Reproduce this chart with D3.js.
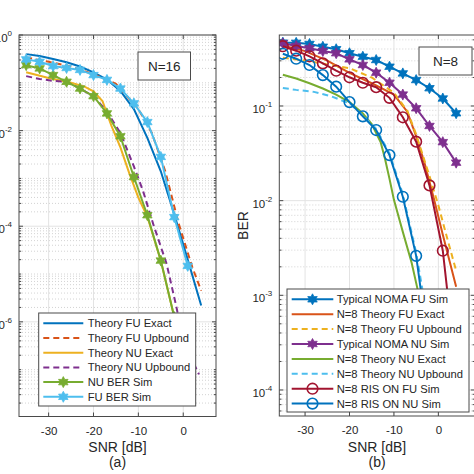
<!DOCTYPE html>
<html><head><meta charset="utf-8">
<script src="https://cdn.jsdelivr.net/npm/d3@7"></script>
<style>
html,body{margin:0;padding:0;background:#fff;}
svg{display:block;font-family:"Liberation Sans",Arial,Helvetica,sans-serif;}
</style></head><body>
<svg id="c" width="474" height="474"></svg>
<script>
// ---------------- data: panel (a) ----------------
const snrSimA   = [-35,-32,-29,-26,-23,-20,-17,-14,-11,-8,-5,-2,1];
const fuSimA    = [0.309,0.275,0.224,0.204,0.186,0.145,0.115,0.0759,0.0372,0.0151,2.82e-3,1.55e-4,1.48e-5];
const snrNuSimA = [-35,-32,-29,-26,-23,-20,-17,-14,-11,-8,-5,-2];
const nuSimA    = [0.234,0.200,0.145,0.105,0.0759,0.0525,0.0229,7.59e-3,1.07e-3,1.70e-4,1.91e-5,1.26e-6];
const snrFuExA  = [-35,-32,-29,-26,-23,-20,-17,-14,-11,-8,-5,-2,1,4];
const fuExA     = [0.398,0.363,0.316,0.269,0.219,0.166,0.117,0.0676,0.0282,7.08e-3,1.41e-3,1.78e-4,2.0e-5,2.19e-6];
const snrFuUpA  = [-35,-30,-25,-20,-15,-10,-7,-4,-1,2,4];
const fuUpA     = [0.339,0.275,0.219,0.151,0.0955,0.0282,8.91e-3,1.41e-3,1.12e-4,1.41e-5,4.47e-6];
const snrNuExA  = [-35,-30,-25,-22,-20,-18,-16,-14,-12,-10,-8,-5,-2];
const nuExA     = [0.166,0.126,0.100,0.0832,0.0661,0.0417,0.0126,4.47e-3,1.26e-3,3.98e-4,1.58e-4,1.91e-5,1.26e-6];
const snrNuUpA  = [-35,-32,-29,-26,-23,-20,-17,-14,-11,-9,-6.7,-3.7,-1.5,0,3.5];
const nuUpA     = [0.138,0.120,0.110,0.105,0.0759,0.0525,0.0251,8.91e-3,1.78e-3,5.62e-4,1.12e-4,1.62e-5,2.0e-6,3.98e-7,7.94e-8];
const labelsA   = ["Theory FU Exact","Theory FU Upbound","Theory NU Exact","Theory NU Upbound","NU BER Sim","FU BER Sim"];

// ---------------- data: panel (b) ----------------
const snrB      = [-35,-32,-29,-26,-23,-20,-17,-14,-11,-8,-5,-2,1,4];
const typFuB    = [0.467,0.465,0.452,0.423,0.398,0.361,0.332,0.306,0.260,0.221,0.188,0.154,0.120,0.0838];
const typNuB    = [0.459,0.431,0.407,0.381,0.361,0.311,0.271,0.225,0.176,0.132,0.0946,0.0615,0.0415,0.0252];
const risFuB    = [0.428,0.384,0.335,0.282,0.236,0.201,0.176,0.158,0.122,0.0760,0.0420,0.0145,2.96e-3,1.6e-4];
const snrRisNuB = [-35,-32,-29,-26,-23,-20,-17,-14,-11,-8,-5,-2];
const risNuB    = [0.356,0.316,0.271,0.212,0.160,0.110,0.0778,0.0557,0.0303,0.0110,2.61e-3,2.40e-4];
const snrFuExB  = [-35,-30,-25,-20,-15,-10,-7,-5,-3,-1,1,4];
const fuExB     = [0.437,0.380,0.302,0.224,0.174,0.132,0.0871,0.0479,0.0240,0.0105,4.37e-3,1.23e-3];
const snrFuUpB  = [-35,-30,-25,-20,-15,-10,-7,-5,-2,0,2,4];
const fuUpB     = [0.324,0.302,0.275,0.251,0.200,0.138,0.0891,0.0501,0.0182,8.91e-3,3.98e-3,1.82e-3];
const snrNuExB  = [-35,-32,-29,-26,-23,-20,-17,-15,-13,-12,-11,-10,-8,-6,-4.7,-2,0];
const nuExB     = [0.214,0.195,0.174,0.153,0.132,0.110,0.0832,0.0646,0.0417,0.0275,0.0170,0.0102,4.68e-3,2.19e-3,1.17e-3,2.51e-4,7.08e-5];
const snrNuUpB  = [-35,-32,-28,-24,-21,-20,-17,-14,-11,-8,-5,-3];
const nuUpB     = [0.155,0.148,0.141,0.126,0.111,0.107,0.0794,0.0575,0.0316,0.0117,2.82e-3,7.94e-4];
const labelsB   = ["Typical NOMA FU Sim","N=8 Theory FU Exact","N=8 Theory FU Upbound","Typical NOMA NU Sim",
                   "N=8 Theory NU Exact","N=8 Theory NU Upbound","N=8 RIS ON FU Sim","N=8 RIS ON NU Sim"];

const xTicks = [-30,-20,-10,0];

// ---------------- drawing ----------------
const C = {blue:"#0072BD", orange:"#D95319", yellow:"#EDB120", purple:"#7E2F8E",
           green:"#77AC30", cyan:"#4DBEEE", red:"#A2142F"};
const svg = d3.select("#c");
const defs = svg.append("defs");

function hexPath(R){
  const pts=[];
  for(let i=0;i<12;i++){
    const a=-Math.PI/2+i*Math.PI/6, r=(i%2===0)?R:R*0.55;
    pts.push([r*Math.cos(a), r*Math.sin(a)]);
  }
  return "M"+pts.map(p=>p[0].toFixed(2)+","+p[1].toFixed(2)).join("L")+"Z";
}

function drawMarker(g, kind, color, cx, cy){
  if(kind==="hex"){
    g.append("path").attr("d",hexPath(5.5)).attr("transform",`translate(${cx},${cy})`)
      .attr("fill",color).attr("stroke",color).attr("stroke-width",0.8);
  } else if(kind==="circle"){
    g.append("circle").attr("cx",cx).attr("cy",cy).attr("r",5.3)
      .attr("fill","none").attr("stroke",color).attr("stroke-width",1.6);
  }
}

function panel(p){
  const x = d3.scaleLinear().domain(p.xDomain).range([p.left,p.right]);
  const y = d3.scaleLog().domain(p.yDomain).range([p.bottom,p.top]);
  const g = svg.append("g");
  defs.append("clipPath").attr("id","clip"+p.key).append("rect")
    .attr("x",p.left).attr("y",p.top).attr("width",p.right-p.left).attr("height",p.bottom-p.top);
  g.append("rect").attr("x",p.left).attr("y",p.top).attr("width",p.right-p.left)
    .attr("height",p.bottom-p.top).attr("fill","#fff");

  // grid
  const gg = g.append("g");
  const [lo,hi]=p.yDomain;
  const e0=Math.floor(Math.log10(lo)), e1=Math.ceil(Math.log10(hi));
  const minorVals=[], majorVals=[];
  for(let e=e0;e<=e1;e++) for(let m=1;m<=9;m++){
    const v=m*Math.pow(10,e);
    if(v<lo*0.999||v>hi*1.001) continue;
    if(m===1 && p.yTickExps.includes(e)) majorVals.push(v); else minorVals.push(v);
  }
  minorVals.forEach(v=>{
    gg.append("line").attr("x1",p.left).attr("x2",p.right).attr("y1",y(v)).attr("y2",y(v))
      .attr("stroke","#c8c8c8").attr("stroke-width",0.8).attr("stroke-dasharray","1,2");
  });
  majorVals.forEach(v=>{
    gg.append("line").attr("x1",p.left).attr("x2",p.right).attr("y1",y(v)).attr("y2",y(v))
      .attr("stroke","#e3e3e3").attr("stroke-width",1);
  });
  xTicks.forEach(t=>{
    gg.append("line").attr("x1",x(t)).attr("x2",x(t)).attr("y1",p.top).attr("y2",p.bottom)
      .attr("stroke","#e3e3e3").attr("stroke-width",1);
  });

  // series
  const sg = g.append("g").attr("clip-path",`url(#clip${p.key})`);
  const line = d3.line().x(d=>x(d[0])).y(d=>y(d[1]));
  p.series.forEach(s=>{
    const data = s.x.map((v,i)=>[v,s.y[i]]);
    sg.append("path").attr("d",line(data)).attr("fill","none").attr("stroke",s.color)
      .attr("stroke-width",2).attr("stroke-dasharray",s.dash?"6,4":null);
    if(s.marker) data.forEach(d=>drawMarker(sg,s.marker,s.color,x(d[0]),y(d[1])));
  });

  // box
  const ax = "#4a4a4a";
  g.append("rect").attr("x",p.left).attr("y",p.top).attr("width",p.right-p.left)
    .attr("height",p.bottom-p.top).attr("fill","none").attr("stroke",ax).attr("stroke-width",1);

  // ticks
  const tk = g.append("g").attr("stroke",ax).attr("stroke-width",1);
  xTicks.forEach(t=>{
    tk.append("line").attr("x1",x(t)).attr("x2",x(t)).attr("y1",p.bottom).attr("y2",p.bottom-4);
    tk.append("line").attr("x1",x(t)).attr("x2",x(t)).attr("y1",p.top).attr("y2",p.top+4);
  });
  majorVals.forEach(v=>{
    tk.append("line").attr("x1",p.left).attr("x2",p.left+4).attr("y1",y(v)).attr("y2",y(v));
    tk.append("line").attr("x1",p.right).attr("x2",p.right-4).attr("y1",y(v)).attr("y2",y(v));
  });
  minorVals.forEach(v=>{
    tk.append("line").attr("x1",p.left).attr("x2",p.left+2.2).attr("y1",y(v)).attr("y2",y(v));
    tk.append("line").attr("x1",p.right).attr("x2",p.right-2.2).attr("y1",y(v)).attr("y2",y(v));
  });

  // x tick labels
  const xa = d3.axisBottom(x).tickValues(xTicks).tickSize(0).tickPadding(10).tickFormat(d=>String(d));
  const xg = g.append("g").attr("transform",`translate(0,${p.bottom})`).call(xa);
  xg.select(".domain").remove();
  xg.selectAll("text").attr("font-size",11.5).attr("fill","#262626")
    .attr("font-family","Liberation Sans, Arial, sans-serif");

  // y tick labels
  p.yTickExps.forEach(e=>{
    const v=Math.pow(10,e);
    const t=g.append("text").attr("x",p.left-7).attr("y",y(v)+7).attr("text-anchor","end")
      .attr("font-size",11.5).attr("fill","#262626");
    t.append("tspan").text("10");
    t.append("tspan").attr("dy",-6).attr("font-size",8).text(String(e));
  });

  // axis labels
  const cx=(p.left+p.right)/2;
  g.append("text").attr("x",cx).attr("y",452).attr("text-anchor","middle").attr("font-size",14)
    .attr("fill","#262626").text("SNR [dB]");
  g.append("text").attr("x",cx).attr("y",467).attr("text-anchor","middle").attr("font-size",14)
    .attr("fill","#262626").text(p.sub);
  if(p.ylabel){
    g.append("text").attr("transform",`translate(${p.ylabelX},${(p.top+p.bottom)/2}) rotate(-90)`)
      .attr("text-anchor","middle").attr("dy","0.35em").attr("font-size",14).attr("fill","#262626").text(p.ylabel);
  }

  // annotation box
  const a=p.annot;
  g.append("rect").attr("x",a.x).attr("y",a.y).attr("width",a.w).attr("height",a.h)
    .attr("fill","#fff").attr("stroke",ax).attr("stroke-width",1);
  g.append("text").attr("x",a.x+a.w/2).attr("y",a.y+a.h/2).attr("dy","0.36em").attr("text-anchor","middle")
    .attr("font-size",13.5).attr("fill","#262626").text(a.text);

  // legend
  const L=p.legend;
  const lg=g.append("g");
  lg.append("rect").attr("x",L.x).attr("y",L.y).attr("width",L.w).attr("height",L.h)
    .attr("fill","#fff").attr("stroke",ax).attr("stroke-width",1);
  p.series.forEach((s,i)=>{
    const yy=L.row0+i*L.dy;
    lg.append("line").attr("x1",L.lx0).attr("x2",L.lx1).attr("y1",yy).attr("y2",yy)
      .attr("stroke",s.color).attr("stroke-width",2).attr("stroke-dasharray",s.dash?"6,4":null);
    if(s.marker) drawMarker(lg,s.marker,s.color,(L.lx0+L.lx1)/2,yy);
    lg.append("text").attr("x",L.tx).attr("y",yy).attr("dy","0.36em").attr("font-size",11.2)
      .attr("fill","#262626").text(s.label);
  });
}

panel({
  key:"a", left:19, right:216, top:35, bottom:416.5,
  xDomain:[-36.6,7.3], yDomain:[Math.pow(10,-7.98),1], yTickExps:[0,-2,-4,-6],
  sub:"(a)",
  annot:{x:138,y:52,w:52.5,h:28,text:"N=16"},
  legend:{x:38.7,y:313,w:157,h:93,row0:323.3,dy:14.7,lx0:43.3,lx1:83.3,tx:87.7},
  series:[
    {label:labelsA[0],x:snrFuExA,y:fuExA,color:C.blue},
    {label:labelsA[1],x:snrFuUpA,y:fuUpA,color:C.orange,dash:true},
    {label:labelsA[2],x:snrNuExA,y:nuExA,color:C.yellow},
    {label:labelsA[3],x:snrNuUpA,y:nuUpA,color:C.purple,dash:true},
    {label:labelsA[4],x:snrNuSimA,y:nuSimA,color:C.green,marker:"hex"},
    {label:labelsA[5],x:snrSimA,y:fuSimA,color:C.cyan,marker:"hex"}
  ]
});

panel({
  key:"b", left:279.3, right:474.8, top:35, bottom:416,
  xDomain:[-35.8,8.2], yDomain:[Math.pow(10,-4.275),Math.pow(10,-0.25)], yTickExps:[-1,-2,-3,-4],
  sub:"(b)", ylabel:"BER", ylabelX:243,
  annot:{x:419,y:47,w:53,h:28,text:"N=8"},
  legend:{x:287,y:289,w:182,h:123,row0:299.3,dy:14.9,lx0:291.7,lx1:333.3,tx:336.7},
  series:[
    {label:labelsB[0],x:snrB,y:typFuB,color:C.blue,marker:"hex"},
    {label:labelsB[1],x:snrFuExB,y:fuExB,color:C.orange},
    {label:labelsB[2],x:snrFuUpB,y:fuUpB,color:C.yellow,dash:true},
    {label:labelsB[3],x:snrB,y:typNuB,color:C.purple,marker:"hex"},
    {label:labelsB[4],x:snrNuExB,y:nuExB,color:C.green},
    {label:labelsB[5],x:snrNuUpB,y:nuUpB,color:C.cyan,dash:true},
    {label:labelsB[6],x:snrB,y:risFuB,color:C.red,marker:"circle"},
    {label:labelsB[7],x:snrRisNuB,y:risNuB,color:C.blue,marker:"circle"}
  ]
});
</script>
</body></html>
